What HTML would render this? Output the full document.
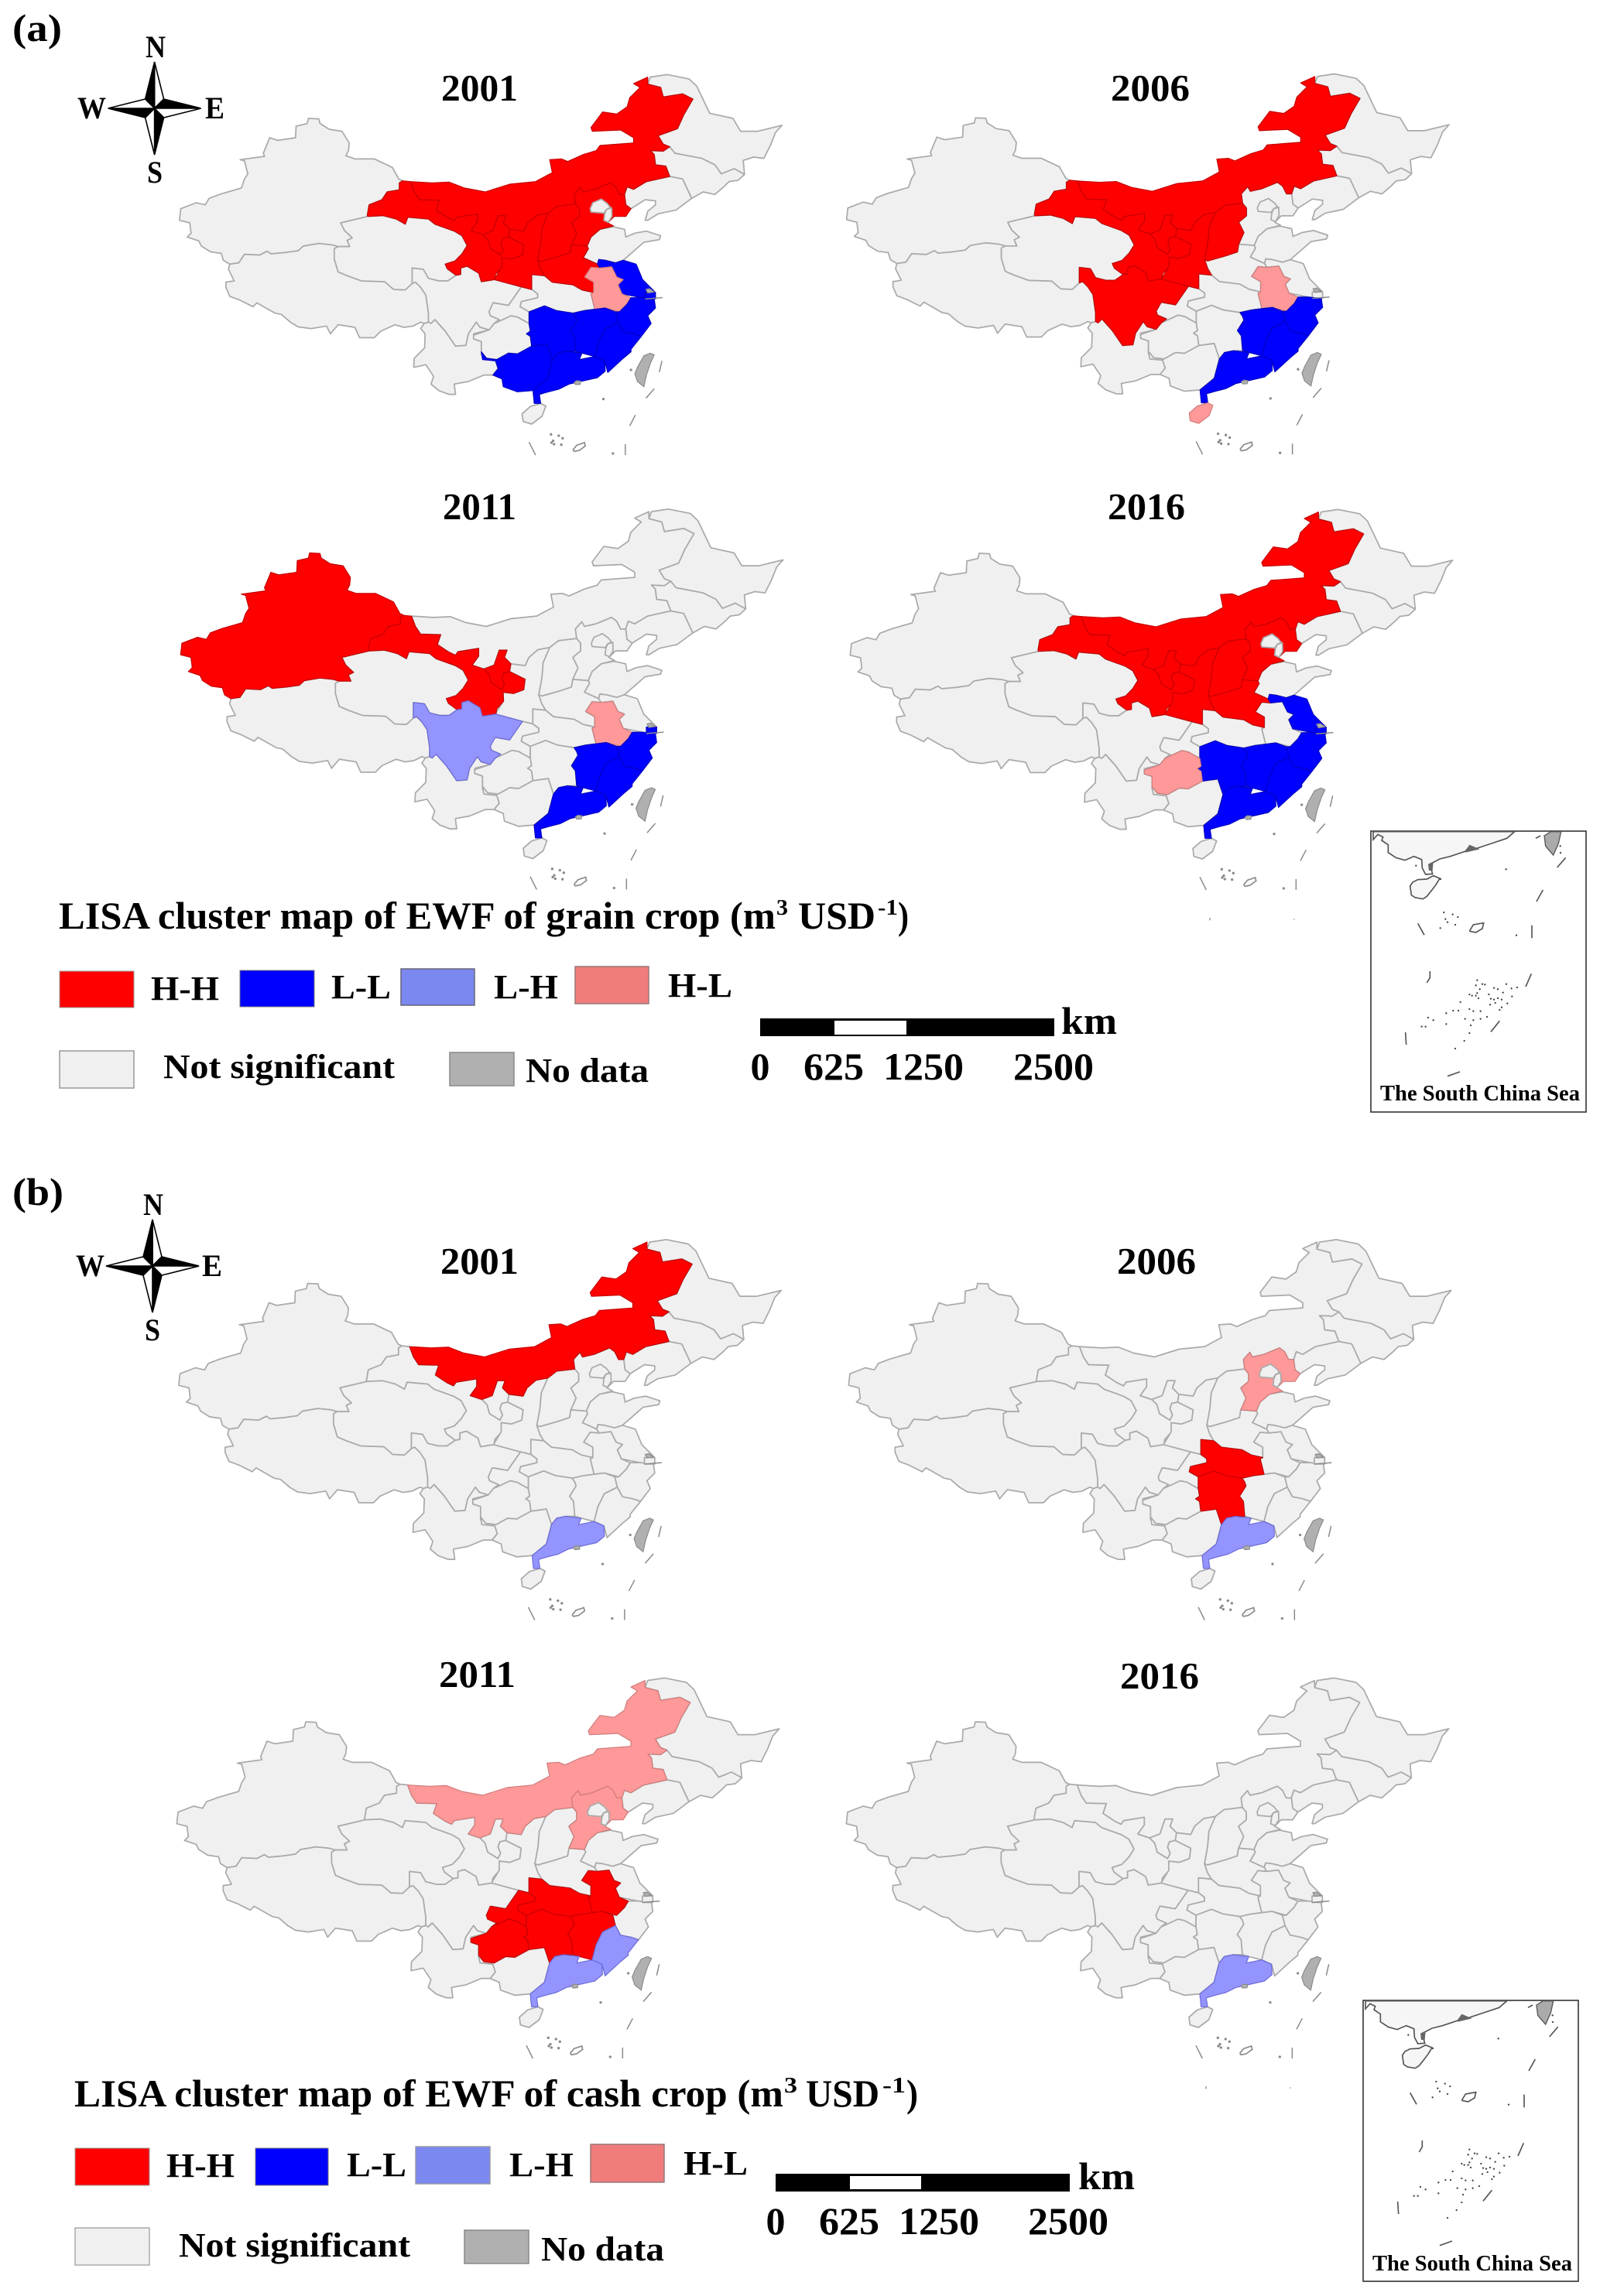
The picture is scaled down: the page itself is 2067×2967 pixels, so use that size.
<!DOCTYPE html>
<html lang="en">
<head>
<meta charset="utf-8">
<title>LISA cluster maps of EWF of grain and cash crops</title>
<style>
html,body{margin:0;padding:0;background:#fff}
svg{display:block}
text{font-family:"Liberation Serif",serif;font-weight:bold;fill:#000}
</style>
</head>
<body>
<svg id="figure" xmlns="http://www.w3.org/2000/svg" width="2067" height="2967" viewBox="0 0 2067 2967">
<rect x="0" y="0" width="2067" height="2967" fill="#fff"/>
<g id="maps"></g>

<text x="16" y="53" font-size="50" textLength="64" lengthAdjust="spacingAndGlyphs">(a)</text>
<text x="16" y="1557" font-size="50" textLength="66" lengthAdjust="spacingAndGlyphs">(b)</text>

<text x="570" y="130" font-size="49" textLength="99" lengthAdjust="spacingAndGlyphs">2001</text>
<text x="1435" y="130" font-size="49" textLength="102" lengthAdjust="spacingAndGlyphs">2006</text>
<text x="572" y="671" font-size="49" textLength="95" lengthAdjust="spacingAndGlyphs">2011</text>
<text x="1431" y="671" font-size="49" textLength="100" lengthAdjust="spacingAndGlyphs">2016</text>
<text x="569" y="1646" font-size="49" textLength="101" lengthAdjust="spacingAndGlyphs">2001</text>
<text x="1443" y="1646" font-size="49" textLength="102" lengthAdjust="spacingAndGlyphs">2006</text>
<text x="567" y="2180" font-size="49" textLength="99" lengthAdjust="spacingAndGlyphs">2011</text>
<text x="1447" y="2182" font-size="49" textLength="102" lengthAdjust="spacingAndGlyphs">2016</text>

<!-- compass a -->
<g>
  <g transform="translate(199.6,140)" stroke="#000" stroke-width="1.6" stroke-linejoin="miter">
    <polygon points="0,-60 12,-12 0,0" fill="#fff"/><polygon points="0,-60 -12,-12 0,0" fill="#000"/>
    <polygon points="60,0 12,-12 0,0" fill="#000"/><polygon points="60,0 12,12 0,0" fill="#fff"/>
    <polygon points="0,60 12,12 0,0" fill="#000"/><polygon points="0,60 -12,12 0,0" fill="#fff"/>
    <polygon points="-60,0 -12,12 0,0" fill="#000"/><polygon points="-60,0 -12,-12 0,0" fill="#fff"/>
  </g>
  <text x="188" y="74" font-size="40" textLength="26" lengthAdjust="spacingAndGlyphs">N</text>
  <text x="190" y="236" font-size="40" textLength="20" lengthAdjust="spacingAndGlyphs">S</text>
  <text x="100" y="153" font-size="40" textLength="37" lengthAdjust="spacingAndGlyphs">W</text>
  <text x="265" y="153" font-size="40" textLength="25" lengthAdjust="spacingAndGlyphs">E</text>
</g>
<!-- compass b -->
<g>
  <g transform="translate(197,1636)" stroke="#000" stroke-width="1.6" stroke-linejoin="miter">
    <polygon points="0,-60 12,-12 0,0" fill="#fff"/><polygon points="0,-60 -12,-12 0,0" fill="#000"/>
    <polygon points="60,0 12,-12 0,0" fill="#000"/><polygon points="60,0 12,12 0,0" fill="#fff"/>
    <polygon points="0,60 12,12 0,0" fill="#000"/><polygon points="0,60 -12,12 0,0" fill="#fff"/>
    <polygon points="-60,0 -12,12 0,0" fill="#000"/><polygon points="-60,0 -12,-12 0,0" fill="#fff"/>
  </g>
  <text x="185" y="1570" font-size="40" textLength="26" lengthAdjust="spacingAndGlyphs">N</text>
  <text x="187" y="1732" font-size="40" textLength="20" lengthAdjust="spacingAndGlyphs">S</text>
  <text x="98" y="1649" font-size="40" textLength="37" lengthAdjust="spacingAndGlyphs">W</text>
  <text x="261" y="1649" font-size="40" textLength="26" lengthAdjust="spacingAndGlyphs">E</text>
</g>

<!-- legend a -->
<g>
  <text x="76" y="1200" font-size="50" textLength="926" lengthAdjust="spacingAndGlyphs">LISA cluster map of EWF of grain crop (m</text>
  <text x="1003" y="1182" font-size="28" textLength="15" lengthAdjust="spacingAndGlyphs">3</text>
  <text x="1031" y="1200" font-size="50" textLength="100" lengthAdjust="spacingAndGlyphs">USD</text>
  <text x="1134" y="1182" font-size="28" textLength="26" lengthAdjust="spacingAndGlyphs">-1</text>
  <text x="1160" y="1200" font-size="50" textLength="14" lengthAdjust="spacingAndGlyphs">)</text>

  <rect x="77" y="1255" width="96" height="47" fill="#ff0000" stroke="#999" stroke-width="1"/>
  <rect x="310" y="1254" width="96" height="47" fill="#0000ff" stroke="#777" stroke-width="1"/>
  <rect x="518" y="1252" width="95" height="47" fill="#7b88f0" stroke="#667" stroke-width="1.5"/>
  <rect x="743" y="1249" width="95" height="48" fill="#f07c7c" stroke="#977" stroke-width="1.5"/>
  <text x="195" y="1292" font-size="44" textLength="88" lengthAdjust="spacingAndGlyphs">H-H</text>
  <text x="428" y="1290" font-size="44" textLength="77" lengthAdjust="spacingAndGlyphs">L-L</text>
  <text x="638" y="1290" font-size="44" textLength="83" lengthAdjust="spacingAndGlyphs">L-H</text>
  <text x="863" y="1288" font-size="44" textLength="83" lengthAdjust="spacingAndGlyphs">H-L</text>
  <rect x="77" y="1358" width="96" height="48" fill="#f0f0f0" stroke="#999" stroke-width="1.5"/>
  <rect x="581" y="1360" width="83" height="43" fill="#b0b0b0" stroke="#888" stroke-width="1.5"/>
  <text x="211" y="1393" font-size="44" textLength="299" lengthAdjust="spacingAndGlyphs">Not significant</text>
  <text x="679" y="1398" font-size="44" textLength="159" lengthAdjust="spacingAndGlyphs">No data</text>

  <rect x="982" y="1316" width="380" height="23" fill="#000"/>
  <rect x="1078" y="1319" width="93" height="18" fill="#fff"/>
  <text x="1371" y="1336" font-size="50" textLength="72" lengthAdjust="spacingAndGlyphs">km</text>
  <text x="982" y="1395" font-size="50" text-anchor="middle">0</text>
  <text x="1077" y="1395" font-size="50" text-anchor="middle" textLength="78" lengthAdjust="spacingAndGlyphs">625</text>
  <text x="1193" y="1395" font-size="50" text-anchor="middle" textLength="104" lengthAdjust="spacingAndGlyphs">1250</text>
  <text x="1361" y="1395" font-size="50" text-anchor="middle" textLength="104" lengthAdjust="spacingAndGlyphs">2500</text>
</g>

<!-- legend b -->
<g>
  <text x="96" y="2722" font-size="50" textLength="916" lengthAdjust="spacingAndGlyphs">LISA cluster map of EWF of cash crop (m</text>
  <text x="1013" y="2704" font-size="28" textLength="17" lengthAdjust="spacingAndGlyphs">3</text>
  <text x="1041" y="2722" font-size="50" textLength="95" lengthAdjust="spacingAndGlyphs">USD</text>
  <text x="1140" y="2704" font-size="28" textLength="30" lengthAdjust="spacingAndGlyphs">-1</text>
  <text x="1171" y="2722" font-size="50" textLength="15" lengthAdjust="spacingAndGlyphs">)</text>

  <rect x="97" y="2776" width="96" height="48" fill="#ff0000" stroke="#999" stroke-width="1"/>
  <rect x="330" y="2776" width="94" height="48" fill="#0000ff" stroke="#777" stroke-width="1"/>
  <rect x="537" y="2774" width="96" height="48" fill="#7b88f0" stroke="#99a" stroke-width="1.5"/>
  <rect x="763" y="2771" width="95" height="49" fill="#f07c7c" stroke="#977" stroke-width="1.5"/>
  <text x="215" y="2813" font-size="44" textLength="88" lengthAdjust="spacingAndGlyphs">H-H</text>
  <text x="448" y="2812" font-size="44" textLength="77" lengthAdjust="spacingAndGlyphs">L-L</text>
  <text x="658" y="2812" font-size="44" textLength="83" lengthAdjust="spacingAndGlyphs">L-H</text>
  <text x="883" y="2810" font-size="44" textLength="83" lengthAdjust="spacingAndGlyphs">H-L</text>
  <rect x="97" y="2879" width="96" height="48" fill="#f0f0f0" stroke="#aaa" stroke-width="1.5"/>
  <rect x="600" y="2882" width="83" height="43" fill="#b0b0b0" stroke="#888" stroke-width="1.5"/>
  <text x="231" y="2916" font-size="44" textLength="299" lengthAdjust="spacingAndGlyphs">Not significant</text>
  <text x="699" y="2921" font-size="44" textLength="159" lengthAdjust="spacingAndGlyphs">No data</text>

  <rect x="1002" y="2809" width="380" height="23" fill="#000"/>
  <rect x="1098" y="2812" width="92" height="17" fill="#fff"/>
  <text x="1393" y="2829" font-size="50" textLength="73" lengthAdjust="spacingAndGlyphs">km</text>
  <text x="1002" y="2887" font-size="50" text-anchor="middle">0</text>
  <text x="1097" y="2887" font-size="50" text-anchor="middle" textLength="78" lengthAdjust="spacingAndGlyphs">625</text>
  <text x="1213" y="2887" font-size="50" text-anchor="middle" textLength="104" lengthAdjust="spacingAndGlyphs">1250</text>
  <text x="1380" y="2887" font-size="50" text-anchor="middle" textLength="104" lengthAdjust="spacingAndGlyphs">2500</text>
</g>

<!-- insets -->
<g id="inset-a">
  <rect x="1771" y="1074" width="278" height="363" fill="#fff" stroke="#333" stroke-width="1.6"/>
  <g class="inset-art" transform="translate(1760,1060) scale(0.33333)"></g>
  <text x="1783" y="1422" font-size="29" textLength="258" lengthAdjust="spacingAndGlyphs">The South China Sea</text>
</g>
<g id="inset-b">
  <rect x="1761" y="2585" width="278" height="363" fill="#fff" stroke="#333" stroke-width="1.6"/>
  <g class="inset-art" transform="translate(1750,2571) scale(0.33333)"></g>
  <text x="1773" y="2934" font-size="29" textLength="258" lengthAdjust="spacingAndGlyphs">The South China Sea</text>
</g>
</svg>

<script>
// ---- Cluster classification ----
const years = ['2001', '2006', '2011', '2016'];
const grainHH = [
  ['neimenggu','gansu','ningxia','shaanxi','shanxi','hebei','henan'],
  ['neimenggu','gansu','ningxia','shaanxi','shanxi','sichuan'],
  ['xinjiang','gansu','ningxia'],
  ['neimenggu','gansu','ningxia','shaanxi','shanxi','hebei','henan']
];
const grainLL = [
  ['jiangsu','shanghai','zhejiang','jiangxi','hunan','fujian','guangdong','guangxi'],
  ['zhejiang','jiangxi','fujian','guangdong'],
  ['shanghai','zhejiang','jiangxi','fujian','guangdong'],
  ['jiangsu','shanghai','zhejiang','jiangxi','hunan','fujian','guangdong']
];
const grainLH = [[], [], ['sichuan'], []];
const grainHL = [['anhui'], ['anhui','hainan'], ['anhui'], ['guizhou']];
const cashHH = [
  ['neimenggu'],
  ['hubei','hunan'],
  ['chongqing','guizhou','hubei','hunan','jiangxi','anhui'],
  []
];
const cashLL = [[], [], [], []];
const cashLH = [['guangdong'], ['guangdong'], ['fujian','guangdong'], ['guangdong']];
const cashHL = [[], ['hebei'], ['neimenggu','hebei'], []];

// ---- Province outlines (3x local map units) ----
const westShapes = {
  xinjiang:'510,195 550,197 555,215 590,237 640,245 668,290 665,320 655,340 690,352 765,352 835,385 860,430 875,437 862,445 862,472 815,480 795,510 745,530 738,570 740,575 635,600 650,630 680,658 660,668 670,692 625,692 600,685 550,680 490,690 470,708 420,715 365,720 350,710 320,725 262,722 240,755 205,760 180,745 172,718 130,712 95,690 85,670 40,655 55,640 50,600 10,590 15,545 75,522 110,530 125,505 170,488 250,465 262,430 275,410 262,360 245,355 340,342 335,330 360,270 390,280 460,270 462,225 505,215',
  xizang:'205,760 240,755 262,722 320,725 350,710 365,720 420,715 470,708 490,690 550,680 600,685 625,692 610,700 610,740 625,790 660,805 715,825 805,828 840,858 885,860 912,835 925,830 945,850 965,880 975,950 975,985 958,990 945,985 915,1000 880,1005 845,995 790,1020 765,1045 708,1045 690,1005 625,995 595,1030 580,1000 520,1010 470,1003 440,985 405,955 380,950 310,910 295,925 245,900 205,885 190,850 190,830 222,825 200,780',
  qinghai:'635,600 740,575 800,572 850,585 885,605 895,578 975,585 1000,605 1075,632 1105,650 1125,688 1105,720 1078,748 1040,760 1048,778 1082,803 1050,825 1015,825 975,815 955,780 912,775 912,835 885,860 840,858 805,828 715,825 660,805 625,790 610,740 610,700 625,692 670,692 660,668 680,658 650,630',
  gansu:'875,437 905,440 920,480 940,510 1018,512 1005,550 1050,580 1075,592 1085,578 1165,565 1165,595 1140,630 1185,645 1205,665 1215,700 1255,725 1265,705 1255,680 1262,660 1285,655 1345,685 1340,725 1300,740 1260,735 1262,770 1235,800 1232,820 1180,828 1170,795 1125,768 1100,775 1100,800 1082,803 1048,778 1040,760 1078,748 1105,720 1125,688 1105,650 1075,632 1000,605 975,585 895,578 885,605 850,585 800,572 740,575 738,570 745,530 795,510 815,480 862,472 862,445',
  ningxia:'1185,645 1225,630 1245,572 1275,572 1265,600 1290,625 1285,655 1262,660 1255,680 1265,705 1255,725 1215,700 1205,665',
  sichuan:'912,775 955,780 975,815 1015,825 1050,825 1082,803 1100,800 1100,775 1125,768 1170,795 1180,828 1232,820 1335,848 1285,920 1230,910 1210,945 1215,960 1250,975 1230,990 1210,1015 1175,1005 1160,985 1130,1030 1120,1075 1080,1078 1040,1020 1000,975 985,990 975,985 975,950 965,880 945,850 925,830 912,835',
  yunnan:'958,990 975,985 985,990 1000,975 1040,1020 1080,1078 1120,1075 1130,1030 1160,985 1175,1005 1210,1015 1150,1030 1150,1050 1180,1060 1180,1110 1190,1125 1235,1135 1245,1165 1225,1190 1190,1190 1130,1215 1075,1225 1080,1265 1055,1265 1015,1250 985,1225 995,1195 965,1150 918,1160 920,1125 960,1085 962,1030 945,1010',
  neimenggu:'1770,60 1825,35 1825,62 1875,75 1885,112 1960,100 2000,120 1965,180 1940,235 1865,262 1885,295 1910,305 1885,322 1835,320 1850,335 1855,375 1895,380 1910,420 1820,440 1770,470 1745,460 1735,490 1715,490 1700,460 1680,445 1620,470 1575,480 1565,462 1540,490 1545,527 1475,535 1440,562 1395,570 1360,600 1345,632 1290,625 1265,600 1275,572 1245,572 1225,630 1185,645 1140,630 1165,595 1165,565 1085,578 1075,592 1050,580 1005,550 1018,512 940,510 920,480 905,440 990,445 1055,442 1115,465 1195,480 1290,450 1390,440 1455,405 1445,355 1490,352 1515,362 1575,335 1625,320 1640,300 1770,290 1770,270 1720,240 1610,245 1605,230 1650,170 1705,178 1745,150 1755,115 1795,75'
};
const eastShapes = {
  heilongjiang:'745,62 755,35 820,25 905,42 935,70 985,175 1075,195 1105,245 1170,245 1265,222 1240,250 1220,300 1195,350 1155,345 1115,358 1120,412 1080,390 1030,410 1005,375 955,350 850,330 830,305 805,295 785,262 860,235 885,180 920,120 880,100 805,112 795,75',
  jilin:'755,320 805,322 830,305 850,330 955,350 1005,375 1030,410 1080,390 1120,412 1095,435 1060,440 1040,460 1005,490 960,480 915,505 880,430 830,420 815,380 775,375 770,335',
  liaoning:'665,460 655,490 660,530 680,545 735,510 775,515 775,530 745,555 735,590 745,590 785,565 855,550 915,505 880,430 830,420 740,440 690,470',
  hebei:'460,490 485,462 495,480 540,470 600,445 620,460 635,490 655,490 660,530 680,545 660,575 615,575 590,600 612,612 560,625 525,655 510,690 450,685 470,640 450,600 480,575 480,545 465,527',
  shanxi:'360,562 395,535 465,527 480,545 480,575 450,600 470,640 450,685 445,715 400,730 330,750 318,745 330,680 335,620',
  shaanxi:'210,625 265,632 280,600 315,570 360,562 335,620 330,680 318,745 330,780 345,805 295,800 295,858 255,848 150,820 180,770 180,735 220,740 260,725 265,685 205,655',
  shandong:'510,690 525,655 560,625 610,615 655,625 660,655 695,640 740,632 795,650 790,665 730,675 690,710 650,745 620,755 580,745 555,742 550,760 495,735 515,700',
  henan:'330,750 400,730 445,715 450,685 510,690 515,700 495,735 550,760 560,775 525,772 500,810 535,830 535,870 490,860 455,840 375,830 345,805 330,780 318,745',
  jiangsu:'550,760 555,742 580,745 620,755 650,745 700,760 725,820 775,870 770,890 735,895 720,890 645,875 630,840 650,820 625,810 605,770 560,775',
  anhui:'525,772 560,775 605,770 625,810 650,820 630,840 645,875 680,890 665,915 635,945 580,930 540,935 525,875 535,870 535,830 500,810',
  hubei:'295,800 345,805 375,830 455,840 490,860 535,870 525,875 540,935 500,940 455,950 390,940 345,922 285,945 250,925 255,905 318,890 318,875 295,858',
  zhejiang:'665,915 680,890 720,890 770,895 775,930 745,960 758,990 720,1040 690,1030 650,1022 630,985 620,945 635,945',
  jiangxi:'455,950 500,940 540,935 580,930 620,945 630,985 580,1010 555,1060 540,1118 490,1105 465,1098 460,1040 445,1020 470,980 465,965',
  hunan:'285,945 345,922 390,940 455,950 465,965 470,980 445,1020 460,1040 465,1098 430,1098 395,1105 375,1130 355,1070 295,1078 290,1040 275,1030 290,1020 285,990',
  fujian:'630,985 650,1022 690,1030 720,1040 680,1090 680,1100 650,1125 590,1180 578,1135 540,1118 555,1060 580,1010',
  guangdong:'395,1105 430,1098 490,1105 480,1130 540,1118 578,1135 580,1175 550,1200 440,1225 400,1245 360,1255 325,1265 330,1300 305,1300 300,1250 355,1205 375,1130',
  guangxi:'100,1100 120,1125 160,1130 205,1105 240,1108 295,1078 355,1070 375,1130 355,1205 300,1250 240,1255 185,1235 180,1205 145,1190 165,1165 155,1135 105,1130',
  guizhou:'70,1035 130,1015 150,990 215,960 240,965 285,990 290,1020 275,1030 290,1040 295,1078 240,1108 205,1105 160,1130 120,1125 100,1100 100,1060 70,1050',
  chongqing:'130,945 145,910 205,920 255,848 295,858 318,875 318,890 255,905 250,925 285,945 285,990 240,965 215,960 150,990 170,975 135,960',
  hainan:'258,1340 290,1312 330,1300 350,1310 335,1350 295,1380 262,1370',
  shanghai:'735,870 775,870 775,895 735,895',
  beijing:'522,545 532,522 565,508 588,525 600,540 585,548 575,562 525,558',
  tianjin:'585,548 605,542 606,575 592,598 575,590 578,565'
};
const enclaves = ['beijing', 'tianjin'];
const noDataShapes = [
  '695,1185 705,1160 730,1115 755,1105 770,1112 755,1145 740,1190 730,1235 705,1215',
  '460,1218 470,1212 485,1214 483,1226 465,1227',
  '738,858 752,855 770,868 745,872'
];
const seaLines = [
  '800,1135 790,1178', '770,1243 738,1280', '697,1345 675,1387',
  '285,1450 310,1500', '658,1458 658,1500', '735,895 802,890'
];
const seaRings = ['455,1480 470,1462 500,1452 503,1465 480,1482 460,1486'];
const seaDots = ['370,1420', '400,1425', '378,1445', '372,1452', '415,1435', '410,1460', '573,1283', '680,1170', '610,1494', '382,1458'];
const lowerTicks = ['1404,1608 1404,1618', '1731,1612 1731,1616'];

const panels = [
  {id:'a-2001', x:-861.5, y:-2072, hh:grainHH[0], ll:grainLL[0], lh:grainLH[0], hl:grainHL[0], lower:false},
  {id:'a-2006', x:0.3, y:-2072.8, hh:grainHH[1], ll:grainLL[1], lh:grainLH[1], hl:grainHL[1], lower:false},
  {id:'a-2011', x:-860, y:-1510.5, hh:grainHH[2], ll:grainLL[2], lh:grainLH[2], hl:grainHL[2], lower:false},
  {id:'a-2016', x:5, y:-1510, hh:grainHH[3], ll:grainLL[3], lh:grainLH[3], hl:grainHL[3], lower:true},
  {id:'b-2001', x:-862.5, y:-566.5, hh:cashHH[0], ll:cashLL[0], lh:cashLH[0], hl:cashHL[0], lower:false},
  {id:'b-2006', x:3, y:-566.5, hh:cashHH[1], ll:cashLL[1], lh:cashLH[1], hl:cashHL[1], lower:false},
  {id:'b-2011', x:-865, y:0, hh:cashHH[2], ll:cashLL[2], lh:cashLH[2], hl:cashHL[2], lower:false},
  {id:'b-2016', x:0, y:0, hh:cashHH[3], ll:cashLL[3], lh:cashLH[3], hl:cashHL[3], lower:true}
];

const clusterStyles = {
  ns:{fill:'#f0f0f0', stroke:'#aaaaaa'},
  hh:{fill:'#ff0000', stroke:'#c40000'},
  ll:{fill:'#0000ff', stroke:'#0000c0'},
  lh:{fill:'#9494ff', stroke:'#6a6ad8'},
  hl:{fill:'#ff9999', stroke:'#cf7a7a'}
};
const SVG_NS = 'http://www.w3.org/2000/svg';

function shift(points, dx) {
  return points.split(' ').map(function (p) {
    const c = p.split(',');
    return (Number(c[0]) + dx) + ',' + c[1];
  }).join(' ');
}
const provinceShapes = {};
Object.keys(westShapes).forEach(function (k) { provinceShapes[k] = westShapes[k]; });
Object.keys(eastShapes).forEach(function (k) { provinceShapes[k] = shift(eastShapes[k], 1080); });

function classOf(panel, name) {
  if (panel.hh.indexOf(name) >= 0) return 'hh';
  if (panel.ll.indexOf(name) >= 0) return 'll';
  if (panel.lh.indexOf(name) >= 0) return 'lh';
  if (panel.hl.indexOf(name) >= 0) return 'hl';
  return 'ns';
}

function addProvince(group, name, cls) {
  const el = document.createElementNS(SVG_NS, 'polygon');
  el.setAttribute('points', provinceShapes[name]);
  el.setAttribute('fill', clusterStyles[cls].fill);
  el.setAttribute('stroke', clusterStyles[cls].stroke);
  el.setAttribute('stroke-width', cls === 'ns' ? '5.2' : '3.5');
  el.setAttribute('stroke-linejoin', 'round');
  
  
  group.appendChild(el);
}

function addLine(group, pts, color, width, label) {
  const el = document.createElementNS(SVG_NS, 'polyline');
  el.setAttribute('points', pts);
  el.setAttribute('fill', 'none');
  el.setAttribute('stroke', color);
  el.setAttribute('stroke-width', width);
  
  
  group.appendChild(el);
}

function addDot(group, pt, r, color, label) {
  const c = pt.split(',');
  const el = document.createElementNS(SVG_NS, 'circle');
  el.setAttribute('cx', c[0]);
  el.setAttribute('cy', c[1]);
  el.setAttribute('r', r);
  el.setAttribute('fill', color);
  
  
  group.appendChild(el);
}

function addNoData(group, pts) {
  const el = document.createElementNS(SVG_NS, 'polygon');
  el.setAttribute('points', shift(pts, 1080));
  el.setAttribute('fill', '#b0b0b0');
  el.setAttribute('stroke', '#8a8a8a');
  el.setAttribute('stroke-width', '3.5');
  
  
  group.appendChild(el);
}

function drawPanel(panel) {
  const g = document.createElementNS(SVG_NS, 'g');
  g.setAttribute('transform', 'translate(' + (1090 + panel.x) + ',' + (2160 + panel.y) + ') scale(0.33333)');
  
  
  const names = Object.keys(provinceShapes).filter(function (n) { return enclaves.indexOf(n) < 0; });
  names.filter(function (n) { return classOf(panel, n) === 'ns'; }).forEach(function (n) { addProvince(g, n, 'ns'); });
  names.filter(function (n) { return classOf(panel, n) !== 'ns'; }).forEach(function (n) { addProvince(g, n, classOf(panel, n)); });
  enclaves.forEach(function (n) { addProvince(g, n, classOf(panel, n)); });
  noDataShapes.forEach(function (s) { addNoData(g, s); });
  seaLines.forEach(function (s) { addLine(g, shift(s, 1080), '#8a8a8a', '4.5', 'nine-dash-segment'); });
  seaRings.forEach(function (s) { addLine(g, shift(s + ' ' + s.split(' ')[0], 1080), '#8a8a8a', '5', 'zhongsha-outline'); });
  seaDots.forEach(function (s) { addDot(g, shift(s, 1080), '5', '#8a8a8a', 'island-dot'); });
  if (panel.lower) {
    lowerTicks.forEach(function (s) { addLine(g, s, '#8a8a8a', '4', 'lower-tick'); });
  }
  document.getElementById('maps').appendChild(g);
}
panels.forEach(drawPanel);

// ---- Inset artwork (shared by both insets) ----
const insetLand = '42,44 42,75 60,55 80,65 75,78 100,95 100,125 130,145 165,155 200,140 230,152 232,185 245,210 272,208 262,170 300,150 340,140 400,120 415,100 440,110 500,90 560,70 590,44';
const insetHainan = '185,255 195,240 215,230 250,228 275,215 300,225 285,250 270,270 250,295 235,305 205,300 190,290';
const insetTaiwan = '705,60 730,44 770,44 760,90 740,135 710,100';
const insetCoast = ['400,120 415,95 455,112 400,125', '255,170 275,160 272,195 258,195'];
const insetLines = [
  '755,183 788,145', '675,315 700,270', '215,400 240,445', '657,407 657,457',
  '262,585 262,610 250,630', '655,595 633,645', '498,820 532,778', '167,822 170,870', '330,992 378,975', '672,70 690,60'
];
const insetRing = '415,430 430,405 470,398 465,420 440,435 415,430';
const insetDots = [
  '557,190','597,446','316,357','350,365','370,375','322,383','330,395','360,405','302,418','208,176','303,228','767,100','768,126',
  '445,620','440,640','465,635','475,637','455,655','445,670','425,680','440,680','450,690','415,675','490,675','510,650','525,655','545,668','558,635','578,652','600,648','580,683','498,692','510,695','525,690','515,708','540,695','495,715','562,710','540,725','532,735','380,705','325,748','352,738','372,738','415,732','430,740','458,740','483,762','458,770','430,775','398,770','420,795','415,825','395,855','360,885','325,790','255,765','275,775','245,800','230,800'
];
document.querySelectorAll('.inset-art').forEach(function (art) {
  const land = document.createElementNS(SVG_NS, 'polygon');
  land.setAttribute('points', insetLand);
  land.setAttribute('fill', '#f6f6f6');
  land.setAttribute('stroke', '#555');
  land.setAttribute('stroke-width', '5');
  
  
  art.appendChild(land);
  const hainan = document.createElementNS(SVG_NS, 'polygon');
  hainan.setAttribute('points', insetHainan);
  hainan.setAttribute('fill', '#f6f6f6');
  hainan.setAttribute('stroke', '#555');
  hainan.setAttribute('stroke-width', '5');
  
  
  art.appendChild(hainan);
  const taiwan = document.createElementNS(SVG_NS, 'polygon');
  taiwan.setAttribute('points', insetTaiwan);
  taiwan.setAttribute('fill', '#aaa');
  taiwan.setAttribute('stroke', '#555');
  taiwan.setAttribute('stroke-width', '4');
  
  
  art.appendChild(taiwan);
  insetCoast.forEach(function (s) {
    const c = document.createElementNS(SVG_NS, 'polygon');
    c.setAttribute('points', s);
    c.setAttribute('fill', '#666');
    
    
    art.appendChild(c);
  });
  insetLines.forEach(function (s) { addLine(art, s, '#555', '5', 'inset-dash-segment'); });
  addLine(art, insetRing, '#555', '5', 'inset-zhongsha-outline');
  insetDots.forEach(function (s) { addDot(art, s, '3.5', '#444', 'inset-island-dot'); });
});
</script>
</body>
</html>
